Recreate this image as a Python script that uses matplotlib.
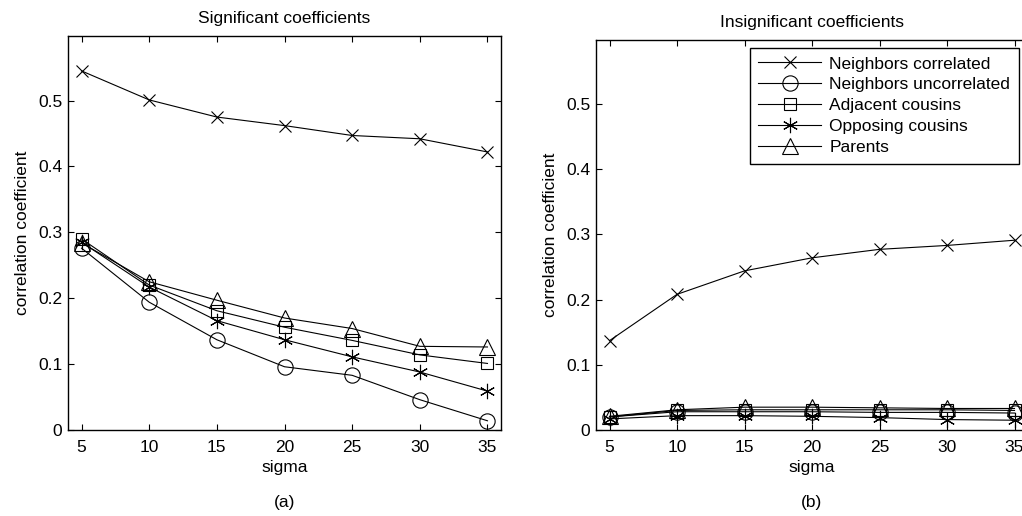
import matplotlib
matplotlib.use('Agg')
import matplotlib.pyplot as plt
import matplotlib.ticker as ticker

plt.rcParams['font.family'] = ['Liberation Sans', 'DejaVu Sans']

sigma = [5, 10, 15, 20, 25, 30, 35]
series_names = ['Neighbors correlated', 'Neighbors uncorrelated', 'Adjacent cousins',
                'Opposing cousins', 'Parents']

# significant coefficients (a)
sig_nb_corr = [0.545, 0.501, 0.475, 0.462, 0.447, 0.442, 0.422]
sig_nb_uncorr = [0.276, 0.194, 0.137, 0.096, 0.083, 0.046, 0.014]
sig_adj_cous = [0.290, 0.220, 0.181, 0.156, 0.136, 0.114, 0.101]
sig_opp_cous = [0.285, 0.217, 0.166, 0.137, 0.111, 0.088, 0.059]
sig_parents = [0.284, 0.225, 0.197, 0.170, 0.154, 0.127, 0.126]

# insignificant coefficients (b)
ins_nb_corr = [0.137, 0.208, 0.244, 0.264, 0.277, 0.283, 0.291]
ins_nb_uncorr = [0.020, 0.028, 0.028, 0.028, 0.027, 0.027, 0.026]
ins_adj_cous = [0.020, 0.030, 0.031, 0.031, 0.031, 0.031, 0.030]
ins_opp_cous = [0.017, 0.022, 0.022, 0.021, 0.019, 0.016, 0.015]
ins_parents = [0.021, 0.031, 0.035, 0.035, 0.034, 0.033, 0.033]

yticks = [0, 0.1, 0.2, 0.3, 0.4, 0.5]

markers = ['x', 'o', 's', (6, 2, 0), '^']
msizes = [9, 11, 9, 11, 12]
FS = 12.5

fig = plt.figure(figsize=(10.22, 5.16), dpi=100)
W, H = 1022., 516.
ax1 = fig.add_axes([68 / W, 86 / H, (501 - 68) / W, (430 - 36) / H])
ax2 = fig.add_axes([596 / W, 86 / H, (1028 - 596) / W, (430 - 40) / H])


def draw(ax, data, title, tag):
	for vals, m, ms, name in zip(data, markers, msizes, series_names):
		ax.plot(sigma, vals, color='black', lw=0.8, marker=m, ms=ms,
		        mfc='none', mec='black', mew=0.8, label=name)
	ax.set_xlim(4, 36)
	ax.set_ylim(0, 0.598)
	ax.set_xticks(sigma)
	ax.set_yticks(yticks)
	ax.yaxis.set_major_formatter(ticker.FormatStrFormatter('%g'))
	ax.tick_params(direction='in', top=True, right=True, labelsize=FS, length=4, width=0.8)
	ax.tick_params(axis='x', pad=7)
	ax.tick_params(axis='y', pad=4)
	for s in ax.spines.values():
		s.set_linewidth(1.0)
	ax.set_xlabel('sigma', fontsize=FS, labelpad=4)
	ax.set_ylabel('correlation coefficient', fontsize=FS, labelpad=6)
	ax.set_title(title, fontsize=FS, pad=9)
	pos = ax.get_position()
	xc = (pos.x0 + min(pos.x1, 1028 / W)) / 2
	fig.text(xc, 1 - 503 / H, tag, ha='center', va='center', fontsize=FS)


draw(ax1, [sig_nb_corr, sig_nb_uncorr, sig_adj_cous, sig_opp_cous, sig_parents],
     'Significant coefficients', '(a)')
draw(ax2, [ins_nb_corr, ins_nb_uncorr, ins_adj_cous, ins_opp_cous, ins_parents],
     'Insignificant coefficients', '(b)')

leg = ax2.legend(loc='upper right', bbox_to_anchor=(1019 / W, 1 - 47.7 / H),
                 bbox_transform=fig.transFigure, borderaxespad=0, fontsize=FS,
                 handlelength=3.6, labelspacing=0.33, fancybox=False, framealpha=1,
                 edgecolor='black', borderpad=0.5, handletextpad=0.5)
leg.get_frame().set_linewidth(1.0)

fig.savefig('out.png', dpi=100)
